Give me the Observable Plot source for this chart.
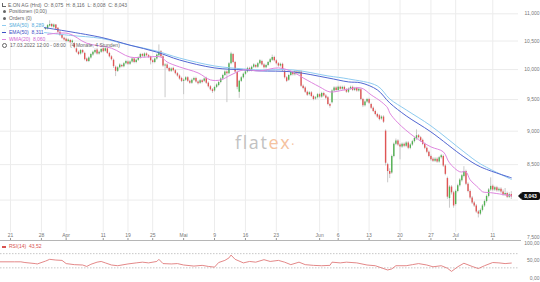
<!DOCTYPE html>
<html><head><meta charset="utf-8">
<script src="https://cdn.jsdelivr.net/npm/d3@7"></script>
<script src="https://cdn.jsdelivr.net/npm/@observablehq/plot@0.6"></script>
<style>
body{margin:0;background:#fff;font-family:"Liberation Sans",Arial,sans-serif;}
#wrap{position:relative;width:540px;height:282px;overflow:hidden;background:#fff;}
#wrap svg{position:absolute;left:0;}
.row{position:absolute;left:2px;font-size:5px;line-height:6px;white-space:nowrap;color:#666;}
.bg{background:rgba(255,255,255,0.92);}
.dash{display:inline-block;width:4px;height:1.2px;vertical-align:middle;margin-right:3px;}
.dot{display:inline-block;width:3px;height:3px;border-radius:50%;background:#666;vertical-align:middle;margin-right:3px;margin-left:1px;}
#tag{position:absolute;left:521px;width:19px;height:8px;background:#111;color:#fff;font-size:5px;font-weight:bold;line-height:8px;text-align:center;border-radius:2px;}
#tag:before{content:"";position:absolute;left:-3px;top:1px;border-right:3px solid #111;border-top:3px solid transparent;border-bottom:3px solid transparent;}
#wm{position:absolute;left:235px;top:130px;font-family:"Open Sans",sans-serif;font-size:18px;letter-spacing:1.6px;color:#c2c2c2;}
</style></head><body><div id="wrap"></div>
<script>
const open = [10.60,10.62,10.66,10.70,10.74,10.72,10.78,10.81,10.76,10.79,
10.84,10.80,10.77,10.82,10.86,10.83,10.79,10.74,10.70,10.73,
10.77,10.74,10.71,10.72,10.77,10.80,10.75,10.79,10.73,10.66,
10.61,10.55,10.53,10.49,10.51,10.47,10.45,10.36,10.30,10.27,
10.33,10.28,10.18,10.14,10.20,10.25,10.29,10.34,10.27,10.30,
10.36,10.32,10.36,10.28,10.22,10.16,10.04,9.97,10.03,10.07,
10.05,10.10,10.13,10.09,10.13,10.18,10.12,10.16,10.20,10.26,
10.22,10.27,10.24,10.22,10.15,10.12,10.18,10.24,10.31,10.22,
10.06,10.08,10.02,9.97,10.02,9.98,9.93,9.89,9.85,9.80,
9.82,9.86,9.80,9.77,9.82,9.85,9.79,9.77,9.81,9.80,
9.85,9.77,9.71,9.66,9.64,9.70,9.73,9.78,9.84,9.90,
9.96,9.93,10.10,10.26,10.12,9.95,9.62,9.80,9.86,9.92,
9.96,10.02,9.98,10.04,10.07,10.04,10.10,10.14,10.08,10.03,
10.07,10.12,10.16,10.21,10.15,10.10,10.06,10.09,9.97,9.86,
9.82,9.90,9.95,9.91,9.96,9.93,9.96,9.72,9.69,9.62,
9.58,9.61,9.55,9.51,9.53,9.58,9.54,9.60,9.56,9.53,
9.42,9.45,9.64,9.69,9.65,9.70,9.67,9.70,9.66,9.62,
9.67,9.70,9.65,9.68,9.64,9.66,9.50,9.40,9.46,9.50,
9.42,9.36,9.31,9.26,9.24,9.19,9.22,9.00,8.50,8.40,
8.38,8.62,8.80,8.85,8.79,8.76,8.80,8.77,8.82,8.74,
8.79,8.84,8.88,8.93,8.90,8.86,8.80,8.74,8.68,8.62,
8.58,8.55,8.58,8.54,8.60,8.62,8.48,8.30,8.02,8.18,
8.10,7.94,8.12,8.20,8.27,8.33,8.40,8.22,8.12,8.03,
7.96,7.92,7.84,7.81,7.86,7.92,7.98,8.05,8.14,8.19,
8.14,8.17,8.13,8.15,8.11,8.07,8.09,8.04,8.075];
const high = [10.65,10.68,10.72,10.77,10.76,10.80,10.84,10.83,10.81,10.87,
10.86,10.82,10.84,10.89,10.88,10.85,10.80,10.76,10.75,10.79,
10.78,10.76,10.75,10.80,10.87,10.82,10.81,10.80,10.74,10.68,
10.62,10.57,10.55,10.54,10.53,10.52,10.47,10.38,10.32,10.35,
10.35,10.30,10.20,10.22,10.28,10.32,10.36,10.37,10.32,10.37,
10.38,10.38,10.38,10.30,10.24,10.18,10.06,10.05,10.10,10.09,
10.12,10.16,10.15,10.15,10.20,10.20,10.18,10.22,10.28,10.28,
10.29,10.29,10.26,10.23,10.17,10.20,10.27,10.43,10.33,10.24,
10.10,10.10,10.04,10.03,10.04,10.00,9.95,9.91,9.87,9.84,
9.88,9.88,9.82,9.84,9.87,9.87,9.81,9.83,9.83,9.86,
9.87,9.79,9.73,9.68,9.72,9.76,9.80,9.86,9.92,9.98,
9.98,10.12,10.30,10.28,10.14,9.97,9.82,9.88,9.94,9.98,
10.04,10.04,10.06,10.10,10.09,10.12,10.17,10.16,10.10,10.09,
10.14,10.19,10.25,10.23,10.17,10.12,10.11,10.11,9.99,9.88,
9.92,9.97,9.97,9.98,9.98,9.98,9.98,9.74,9.71,9.64,
9.63,9.63,9.57,9.55,9.60,9.60,9.62,9.62,9.58,9.55,
9.44,9.66,9.71,9.71,9.72,9.72,9.72,9.72,9.68,9.69,
9.72,9.72,9.70,9.70,9.69,9.68,9.52,9.48,9.52,9.52,
9.44,9.38,9.33,9.28,9.26,9.24,9.24,9.02,8.52,8.44,
8.64,8.82,8.88,8.87,8.81,8.82,8.82,8.84,8.84,8.81,
8.86,8.91,9.02,8.95,8.92,8.88,8.82,8.76,8.70,8.64,
8.60,8.60,8.60,8.62,8.65,8.64,8.50,8.32,8.20,8.20,
8.12,8.14,8.22,8.30,8.36,8.47,8.42,8.24,8.14,8.05,
7.98,7.94,7.86,7.88,7.94,8.00,8.07,8.16,8.31,8.21,
8.19,8.19,8.17,8.17,8.14,8.16,8.11,8.10,8.116];
const low = [10.58,10.60,10.64,10.68,10.70,10.71,10.76,10.74,10.74,10.77,
10.78,10.75,10.76,10.80,10.81,10.77,10.72,10.67,10.68,10.71,
10.72,10.69,10.69,10.70,10.75,10.74,10.73,10.70,10.64,10.58,
10.53,10.50,10.47,10.47,10.45,10.45,10.36,10.28,10.24,10.25,
10.27,10.15,10.12,10.12,10.18,10.23,10.27,10.25,10.25,10.28,
10.29,10.30,10.26,10.20,10.15,10.02,9.88,9.95,10.01,10.03,
10.03,10.08,10.07,10.07,10.11,10.10,10.10,10.14,10.18,10.21,
10.20,10.22,10.19,10.08,10.10,10.10,10.16,10.22,10.20,10.04,
9.53,10.00,9.95,9.95,9.96,9.91,9.87,9.82,9.78,9.58,
9.80,9.78,9.75,9.75,9.80,9.77,9.74,9.75,9.76,9.78,
9.75,9.69,9.64,9.60,9.62,9.68,9.71,9.76,9.82,9.88,
9.45,9.91,10.08,10.10,9.94,9.66,9.52,9.78,9.84,9.90,
9.94,9.96,9.96,10.02,10.02,10.02,10.08,10.06,10.01,10.01,
10.05,10.10,10.14,10.13,10.08,10.04,10.04,9.96,9.84,9.78,
9.80,9.88,9.89,9.89,9.91,9.91,9.70,9.66,9.60,9.55,
9.56,9.53,9.48,9.49,9.51,9.52,9.52,9.54,9.50,9.40,
9.36,9.43,9.62,9.63,9.63,9.65,9.65,9.64,9.60,9.60,
9.65,9.63,9.63,9.62,9.62,9.48,9.37,9.38,9.44,9.42,
9.34,9.29,9.24,9.20,9.16,9.17,9.12,8.48,8.24,8.30,
8.36,8.60,8.78,8.77,8.57,8.74,8.75,8.75,8.72,8.72,
8.77,8.82,8.86,8.88,8.83,8.78,8.72,8.66,8.60,8.55,
8.53,8.53,8.52,8.52,8.58,8.46,8.34,8.01,7.89,8.07,
7.89,7.92,8.10,8.18,8.25,8.31,8.20,8.10,8.01,7.94,
7.90,7.82,7.76,7.79,7.84,7.90,7.96,8.03,8.12,8.12,
8.12,8.11,8.11,8.09,8.05,8.05,8.02,8.02,8.008];
const close = [10.62,10.66,10.70,10.74,10.72,10.78,10.81,10.76,10.79,10.84,
10.80,10.77,10.82,10.86,10.83,10.79,10.74,10.70,10.73,10.77,
10.74,10.71,10.73,10.78,10.80,10.76,10.79,10.72,10.66,10.60,
10.55,10.52,10.49,10.52,10.47,10.50,10.38,10.30,10.26,10.33,
10.29,10.17,10.14,10.20,10.26,10.30,10.33,10.27,10.30,10.35,
10.31,10.36,10.28,10.22,10.17,10.05,9.97,10.03,10.08,10.05,
10.10,10.14,10.09,10.13,10.18,10.12,10.16,10.20,10.26,10.23,
10.27,10.24,10.21,10.15,10.12,10.18,10.25,10.30,10.22,10.06,
10.08,10.02,9.97,10.01,9.98,9.93,9.89,9.84,9.80,9.82,
9.86,9.80,9.77,9.82,9.85,9.79,9.76,9.81,9.78,9.84,
9.77,9.71,9.66,9.63,9.70,9.74,9.78,9.84,9.90,9.96,
9.93,10.10,10.27,10.12,9.96,9.70,9.80,9.86,9.92,9.96,
10.02,9.98,10.04,10.08,10.04,10.10,10.15,10.08,10.03,10.07,
10.12,10.17,10.21,10.15,10.10,10.06,10.09,9.98,9.86,9.80,
9.90,9.95,9.91,9.96,9.93,9.96,9.72,9.68,9.62,9.57,
9.61,9.55,9.50,9.53,9.58,9.54,9.60,9.56,9.52,9.42,
9.39,9.64,9.69,9.65,9.70,9.67,9.70,9.66,9.62,9.67,
9.70,9.65,9.68,9.64,9.67,9.50,9.40,9.46,9.50,9.44,
9.36,9.31,9.26,9.22,9.18,9.22,9.14,8.52,8.40,8.36,
8.62,8.80,8.85,8.79,8.76,8.80,8.77,8.82,8.74,8.79,
8.84,8.89,8.93,8.90,8.85,8.80,8.74,8.68,8.62,8.57,
8.55,8.58,8.54,8.60,8.63,8.48,8.36,8.04,8.18,8.10,
7.92,8.12,8.20,8.28,8.34,8.40,8.22,8.12,8.03,7.96,
7.92,7.84,7.81,7.86,7.92,7.98,8.05,8.14,8.19,8.14,
8.17,8.13,8.15,8.11,8.07,8.09,8.04,8.075,8.043];

const smaIdx = [21,34,49,63,76,87,104,118,126,142,159,169,183,189,197,209,225,233,248];
const smaVal = [10.655,10.601,10.547,10.425,10.320,10.199,10.062,10.011,9.994,9.994,9.892,9.841,9.724,9.511,9.334,9.082,8.688,8.511,8.289];
const emaIdx = [21,49,63,76,87,104,118,126,142,159,169,175,183,189,197,209,225,233,248];
const emaVal = [10.746,10.565,10.425,10.303,10.165,10.028,9.994,9.977,9.960,9.858,9.791,9.775,9.658,9.446,9.239,8.989,8.614,8.468,8.311];
const wmaIdx = [23,33,42,54,63,71,78,81,87,96,102,107,112,118,126,135,142,147,155,160,167,175,180,185,188,189,193,201,209,215,218,223,226,228,232,234,238,248];
const wmaVal = [10.62,10.637,10.46,10.372,10.216,10.216,10.216,10.130,10.045,9.943,9.825,9.825,9.909,9.994,9.977,10.028,9.960,9.858,9.708,9.625,9.658,9.691,9.576,9.462,9.366,9.286,9.129,8.913,8.762,8.688,8.526,8.396,8.396,8.283,8.171,8.115,8.102,8.060];

const rsiIdx = [0,7,10,12,17,18,22,24,27,30,32,36,40,42,44,47,49,51,54,57,62,66,69,72,76,77,79,83,86,89,94,98,101,104,106,109,111,112,114,118,121,124,128,131,135,138,141,145,148,152,156,160,161,165,168,173,178,182,185,188,190,192,197,200,203,207,210,214,217,219,222,225,229,232,235,239,242,245,248];
const rsiVal = [47,47,47,45,42,41,49,54,52,51,42,39,38,34,40,46,48,44,38,36,41,44,46,44,48,54,42,41,42,38,35,37,34,32,45,51,58,66,54,44,48,46,53,48,51,46,39,46,39,37,36,37,46,44,46,44,38,36,30,24,27,36,36,39,42,38,33,36,29,20,33,43,34,28,36,45,44,42,43.52];
const rsiLevels = [30,70];
const rsiTicks = [0,50,100];

const tickIdx = [5,20,32,50,62,74,89,104,119,134,155,164,179,194,209,221,239];
const tickLabels = ["21","28","Apr","11","19","25","Mai","9","16","23","Jun","6","13","20","27","Jul","11"];
const yTicks = [7.5,8,8.5,9,9.5,10,10.5,11];
const yLabelTicks = [7.5,8.5,9,9.5,10,10.5,11];

const de = d3.formatLocale({decimal:",",thousands:".",grouping:[3],currency:["","€"]});
const f3 = de.format(".3f"), f2 = de.format(".2f");

const candles = close.map((c,i)=>({i,o:open[i],h:high[i],l:low[i],c}));
const up = candles.filter(d=>d.c>=d.o), down = candles.filter(d=>d.c<d.o);
const ser = (idx,val)=>idx.map((j,k)=>({j,v:val[k]}));
const ticks = tickIdx.map((j,k)=>({j,label:tickLabels[k]}));
const xDomain = [0.15, 251.49];
const font = {fontSize:"5px",fontFamily:"Liberation Sans, Arial, sans-serif",background:"transparent",overflow:"visible"};

const main = Plot.plot({
  width:540, height:240, marginTop:0, marginBottom:0, marginLeft:0, marginRight:22,
  style:font,
  x:{domain:xDomain, axis:null},
  y:{type:"log", domain:[7.466,11.253], axis:null},
  marks:[
    Plot.ruleY(yTicks.filter(v=>v>7.5), {stroke:"#ececec"}),
    Plot.ruleX(ticks, {x:"j", stroke:"#ececec", insetBottom:8}),
    Plot.ruleX(ticks, {x:"j", stroke:"#999", insetTop:238}),
    Plot.text(ticks, {x:"j", text:"label", frameAnchor:"bottom", dy:-3.3, fill:"#777"}),
    Plot.text(yLabelTicks, {y:d=>d, text:d=>f3(d), frameAnchor:"right", textAnchor:"end", dx:21, fill:"#777"}),
    Plot.ruleX(candles, {x:"i", y1:"l", y2:"h", stroke:"#bdbdbd", strokeWidth:0.8}),
    Plot.ruleX(up, {x:"i", y1:"o", y2:"c", stroke:"#52b152", strokeWidth:1.4}),
    Plot.ruleX(down, {x:"i", y1:"o", y2:"c", stroke:"#e05555", strokeWidth:1.4}),
    Plot.line(ser(smaIdx,smaVal), {x:"j", y:"v", stroke:"#8ecbf0", strokeWidth:1, curve:"catmull-rom"}),
    Plot.line(ser(emaIdx,emaVal), {x:"j", y:"v", stroke:"#5166d2", strokeWidth:1, curve:"catmull-rom"}),
    Plot.line(ser(wmaIdx,wmaVal), {x:"j", y:"v", stroke:"#df86df", strokeWidth:1, curve:"catmull-rom"})
  ]
});
main.style.top = "0px";

const rsi = Plot.plot({
  width:540, height:42, marginTop:2.5, marginBottom:4, marginLeft:0, marginRight:22,
  style:font,
  x:{domain:xDomain, axis:null},
  y:{domain:[0,100], axis:null},
  marks:[
    Plot.ruleY(rsiLevels, {stroke:"#c8c8c8", strokeDasharray:"1.5,1.5"}),
    Plot.line(ser(rsiIdx,rsiVal), {x:"j", y:"v", stroke:"#e07a7a", strokeWidth:0.9}),
    Plot.text(rsiTicks, {y:d=>d, text:d=>f2(d), frameAnchor:"right", textAnchor:"end", dx:21, fill:"#777"})
  ]
});
rsi.style.top = "240px";

const wrap = document.getElementById("wrap");
wrap.appendChild(main);
wrap.appendChild(rsi);

const sep = document.createElement("div");
sep.style.cssText = "position:absolute;left:0;top:240px;width:521px;height:1px;background:#b5b5b5;";
wrap.appendChild(sep);

const L = close.length-1;
const legend = document.createElement("div");
legend.innerHTML = `
<div style="position:absolute;left:0;top:0;width:44px;height:42px;background:rgba(255,255,255,0.95)"></div>
<div class="row bg" style="top:1.7px"><span style="display:inline-block;width:3px;height:3px;border-left:1px solid #666;border-bottom:1px solid #666;margin-right:2px;vertical-align:middle"></span>E.ON AG (Hrd)&nbsp; O: ${f3(open[L])}&nbsp; H: ${f3(high[L])}&nbsp; L: ${f3(low[L])}&nbsp; C: ${f3(close[L])}</div>
<div class="row" style="top:8.2px"><span class="dot"></span>Positionen (0,00)</div>
<div class="row" style="top:14.7px"><span class="dot"></span>Orders (0)</div>
<div class="row" style="top:22px;color:#55aee0"><span class="dash" style="background:#8ecbf0"></span>SMA(50)&nbsp; ${f3(smaVal.at(-1))}</div>
<div class="row" style="top:29px;color:#3c50c6"><span class="dash" style="background:#3c50c6"></span>EMA(50)&nbsp; ${f3(emaVal.at(-1))}</div>
<div class="row" style="top:35.6px;color:#cf62cf"><span class="dash" style="background:#df86df"></span>WMA(20)&nbsp; ${f3(wmaVal.at(-1))}</div>
<div class="row" style="top:42px"><span style="display:inline-block;width:3px;height:3px;border:0.8px solid #666;border-radius:50%;margin-right:3px;vertical-align:middle"></span>17.03.2022 12:00 - 08:00&nbsp;&nbsp; (4 Monate, 4 Stunden)</div>
<div class="row" style="top:243.3px;color:#d9534f"><span class="dash" style="background:#d9534f"></span>RSI(14)&nbsp; ${f2(rsiVal.at(-1))}</div>
`;
wrap.appendChild(legend);

const wm = document.createElement("div");
wm.id = "wm";
wm.innerHTML = `flat<span style="color:#f5c2a0">ex</span><span style="color:#f5c2a0;font-size:12px">·</span>`;
wrap.insertBefore(wm, main.nextSibling);

const yPix = main.scale("y").apply(close[L]);
const tag = document.createElement("div");
tag.id = "tag";
tag.style.top = (yPix-4)+"px";
tag.textContent = f3(close[L]);
wrap.appendChild(tag);
</script></body></html>
